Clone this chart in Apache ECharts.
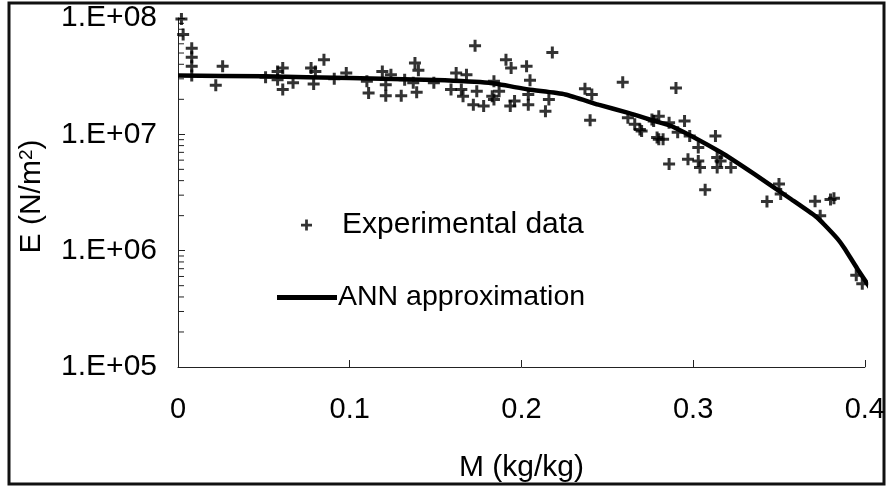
<!DOCTYPE html>
<html>
<head>
<meta charset="utf-8">
<script src="https://cdn.jsdelivr.net/npm/echarts@6/dist/echarts.min.js"></script>
<style>
html,body{margin:0;padding:0;background:#fff;}
#chart{width:888px;height:488px;}
</style>
</head>
<body>
<div id="chart"></div>
<script>
// Experimental data: moisture content M (kg/kg) and modulus E (N/m2)
const expM = [0.002,0.003,0.008,0.008,0.008,0.008,0.026,0.022,0.051,0.058,0.061,0.058,0.061,0.067,0.0775,0.080,0.079,0.085,0.091,
  0.098,0.110,0.111,0.119,0.124,0.121,0.121,0.130,0.132,0.138,0.140,0.139,0.137,0.149,0.162,0.168,0.159,0.165,0.166,0.173,0.174,0.172,0.178,0.183,0.184,
  0.191,0.194,0.203,0.205,0.204,0.204,0.218,0.187,0.184,0.1935,0.196,0.216,0.214,0.237,0.241,0.240,0.259,0.262,0.266,0.269,0.276,0.279,
  0.280,0.277,0.270,0.286,0.295,0.291,0.280,0.2825,0.298,0.303,0.313,0.286,0.297,0.303,0.304,0.314,0.314,0.322,0.316,0.307,0.343,0.350,0.351,
  0.371,0.382,0.380,0.374,0.395,0.3985,0.290];
const expE = [9.8e7,7.2e7,5.5e7,4.6e7,3.84e7,3.2e7,3.84e7,2.64e7,3.09e7,3.47e7,3.72e7,2.95e7,2.43e7,2.77e7,3.72e7,3.47e7,2.71e7,4.38e7,3.01e7,
  3.37e7,2.86e7,2.27e7,3.47e7,3.26e7,2.67e7,2.15e7,2.15e7,2.95e7,4.1e7,3.55e7,2.3e7,2.77e7,2.77e7,3.37e7,3.26e7,2.43e7,2.43e7,2.12e7,5.77e7,2.35e7,1.8e7,1.75e7,2.12e7,2.86e7,
  4.38e7,3.72e7,3.84e7,2.91e7,2.2e7,1.8e7,5.05e7,2.35e7,1.99e7,1.75e7,1.93e7,1.99e7,1.58e7,2.46e7,2.2e7,1.32e7,2.8e7,1.39e7,1.22e7,1.1e7,1.34e7,9.4e6,
  1.43e7,1.3e7,1.07e7,1.26e7,1.3e7,1.04e7,9.06e6,9.06e6,9.66e6,7.7e6,9.66e6,5.55e6,6.11e6,5.91e6,5.19e6,6.32e6,5.19e6,5.19e6,5.9e6,3.34e6,2.64e6,3.74e6,3.07e6,
  2.66e6,2.82e6,2.75e6,2.0e6,6.15e5,5.2e5,2.5e7];

// ANN approximation curve
const annM = [0,0.05,0.1,0.15,0.181,0.204,0.2255,0.2448,0.2622,0.2777,0.2873,0.3163,0.3357,0.3569,0.3714,0.3763,0.384,0.3879,0.3956,0.4033];
const annE = [3.2e7,3.15e7,3.05e7,2.93e7,2.77e7,2.43e7,2.2e7,1.8e7,1.53e7,1.3e7,1.18e7,6.98e6,4.55e6,2.78e6,1.97e6,1.68e6,1.27e6,1.06e6,7.0e5,4.73e5];

// Axis tick labels
const xTickLabels = ['0','0.1','0.2','0.3','0.4'];
const yTickLabels = ['1.E+05','1.E+06','1.E+07','1.E+08'];
// Log minor ticks (2..9 per decade)
const yMinorTicks = [2e5,3e5,4e5,5e5,6e5,7e5,8e5,9e5,2e6,3e6,4e6,5e6,6e6,7e6,8e6,9e6,2e7,3e7,4e7,5e7,6e7,7e7,8e7,9e7];

const FONT = 'Liberation Sans, Arial, Helvetica, sans-serif';
const plusPath = 'path://M3.75,0H6.25V3.75H10V6.25H6.25V10H3.75V6.25H0V3.75H3.75Z';

const chart = echarts.init(document.getElementById('chart'), null, {renderer:'canvas'});
const option = {
  animation: false,
  backgroundColor: '#fff',
  grid: {left: 178, right: 20, top: 18, bottom: 119},
  graphic: [{
    type: 'rect', silent: true,
    shape: {x: 9, y: 3, width: 875, height: 481},
    style: {fill: null, stroke: '#111', lineWidth: 3}
  }],
  legend: [
    {
      data: [{name: 'Experimental data', icon: plusPath}],
      left: 301, top: 210, padding: 0,
      itemWidth: 11, itemHeight: 11, selectedMode: false,
      textStyle: {fontSize: 30, fontFamily: FONT, color: '#000', padding: [0, 0, 0, 25]}
    },
    {
      data: [{name: 'ANN approximation', icon: 'rect'}],
      left: 277, top: 283, padding: 0,
      itemWidth: 60, itemHeight: 5, selectedMode: false,
      textStyle: {fontSize: 28.5, fontFamily: FONT, color: '#000', padding: [0, 0, 0, -4]}
    }
  ],
  xAxis: {
    type: 'value', min: 0, max: 0.4, interval: 0.1,
    axisLine: {lineStyle: {color: '#222', width: 1}},
    axisTick: {inside: true, length: 7, lineStyle: {color: '#222'}},
    splitLine: {show: false},
    axisLabel: {
      fontSize: 29, fontFamily: FONT, color: '#000', margin: 28,
      formatter: v => xTickLabels[Math.round(v / 0.1)]
    },
    name: 'M (kg/kg)', nameLocation: 'middle', nameGap: 86,
    nameTextStyle: {fontSize: 30, fontFamily: FONT, color: '#000'}
  },
  yAxis: {
    type: 'log', logBase: 10, min: 1e5, max: 1e8,
    axisLine: {show: true, lineStyle: {color: '#222', width: 1}},
    axisTick: {show: true, inside: true, length: 7, lineStyle: {color: '#222'}},
    splitLine: {show: false},
    axisLabel: {
      fontSize: 30, fontFamily: FONT, color: '#000', margin: 21,
      formatter: v => yTickLabels[Math.round(Math.log10(v)) - 5]
    },
    name: 'E (N/m{sup|2})', nameLocation: 'middle', nameGap: 131,
    nameTextStyle: {
      fontSize: 30, fontFamily: FONT, color: '#000', padding: [0, 8, 0, 0],
      rich: {sup: {fontSize: 19, fontFamily: FONT, color: '#000', verticalAlign: 'top', padding: [0, 0, 11, 0]}}
    }
  },
  series: [
    {
      name: 'Minor ticks', type: 'custom', silent: true, clip: false,
      data: yMinorTicks.map(v => [0, v]),
      renderItem: (params, api) => {
        const p = api.coord([api.value(0), api.value(1)]);
        return {type: 'line', shape: {x1: p[0], y1: p[1], x2: p[0] + 6, y2: p[1]},
                style: {stroke: '#222', lineWidth: 1}};
      }
    },
    {
      name: 'ANN approximation', type: 'line', smooth: 0.2,
      showSymbol: false, clip: false,
      color: '#000',
      lineStyle: {color: '#000', width: 4.5},
      data: annM.map((m, i) => [m, annE[i]]),
      z: 3
    },
    {
      name: 'Experimental data', type: 'scatter', symbol: plusPath, symbolSize: 12,
      color: '#000', itemStyle: {color: '#000'}, clip: false,
      data: expM.map((m, i) => [m, expE[i]]),
      z: 4
    }
  ]
};
chart.setOption(option);
</script>
</body>
</html>
